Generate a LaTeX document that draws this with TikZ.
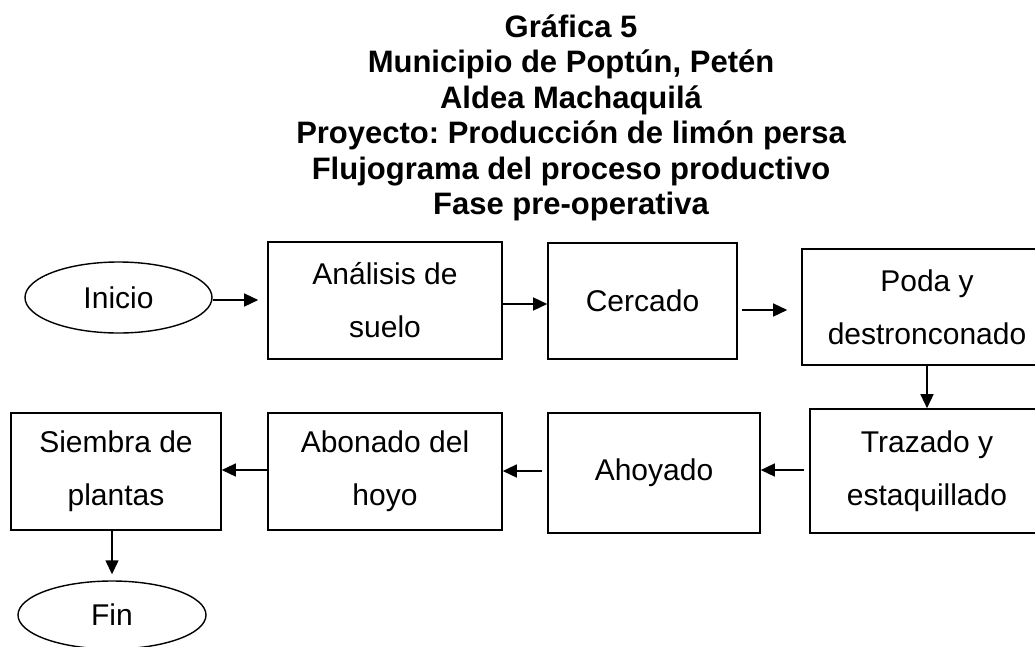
\documentclass[tikz,border=0pt]{standalone}
\usepackage{fontspec}
\setmainfont{Liberation Sans}
\frenchspacing
\usetikzlibrary{shapes.geometric,arrows.meta}
\begin{document}
\begin{tikzpicture}[x=1pt,y=-1pt,
  proc/.style={draw,line width=1.6pt,inner sep=0pt,align=center,font=\fontsize{30}{53}\selectfont},
  term/.style={draw,ellipse,line width=1.4pt,inner sep=0pt,font=\fontsize{30}{36}\selectfont},
  ttl/.style={anchor=base,inner sep=0pt,font=\bfseries\fontsize{31}{36}\selectfont},
  arr/.style={line width=1.4pt,-{Triangle[length=14pt,width=13pt]}}]
\useasboundingbox (0,0) rectangle (1035,646);
\clip (0,0) rectangle (1035,646);

% title
\node[ttl] (t1) at (571,37) {Gráfica 5};
\node[ttl] (t2) at (571,72.5) {Municipio de Poptún, Petén};
\node[ttl] (t3) at (571,108) {Aldea Machaquilá};
\node[ttl] (t4) at (571,143.5) {Proyecto: Producción de limón persa};
\node[ttl] (t5) at (571,179) {Flujograma del proceso productivo};
\node[ttl] (t6) at (571,214.5) {Fase pre-operativa};

% shapes
\node[term,minimum width=187pt,minimum height=71pt] (ini) at (118.5,297.5) {Inicio};
\node[proc,minimum width=234pt,minimum height=117pt] (ana) at (385,300.5) {Análisis de\\suelo};
\node[proc,minimum width=189pt,minimum height=116pt] (cer) at (642.5,301) {Cercado};
\node[proc,minimum width=250pt,minimum height=116pt] (pod) at (927,307) {Poda y\\destronconado};
\node[proc,minimum width=234pt,minimum height=124pt] (tra) at (927,471) {Trazado y\\estaquillado};
\node[proc,minimum width=212pt,minimum height=120pt] (aho) at (654,473) {Ahoyado};
\node[proc,minimum width=234pt,minimum height=117pt] (abo) at (385,471.5) {Abonado del\\hoyo};
\node[proc,minimum width=210pt,minimum height=117pt] (sie) at (116,471.5) {Siembra de\\plantas};
\node[term,minimum width=188pt,minimum height=68pt] (fin) at (112,615) {Fin};

% connectors
\draw[arr,shorten >=9pt] ([yshift=-2.5pt]ini.east) -- ([yshift=-2.5pt]ini.east -| ana.west);
\draw[arr] ([yshift=-3.5pt]ana.east) -- ([yshift=-3.5pt]ana.east -| cer.west);
\draw[arr,shorten <=4pt,shorten >=14pt] ([yshift=-9pt]cer.east) -- ([yshift=-9pt]cer.east -| pod.west);
\draw[arr] (pod.south) -- (tra.north);
\draw[arr,shorten <=5pt] ([yshift=1pt]tra.west) -- ([yshift=1pt]tra.west -| aho.east);
\draw[arr,shorten <=5pt] ([yshift=2pt]aho.west) -- ([yshift=2pt]aho.west -| abo.east);
\draw[arr] ([yshift=1.5pt]abo.west) -- ([yshift=1.5pt]abo.west -| sie.east);
\draw[arr,shorten >=6pt] (sie.south -| fin.north) -- (fin.north);
\end{tikzpicture}
\end{document}
